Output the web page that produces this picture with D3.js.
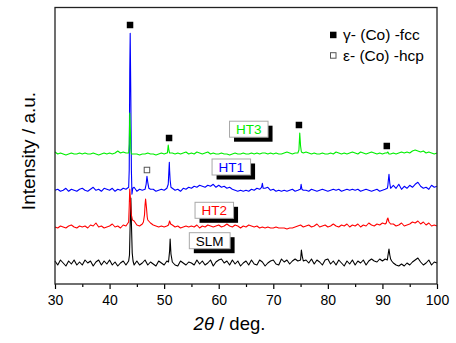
<!DOCTYPE html>
<html><head><meta charset="utf-8">
<script src="https://cdn.jsdelivr.net/npm/d3@7"></script>
<style>body{margin:0;background:#fff}svg{display:block;font-family:"Liberation Sans",Arial,sans-serif}</style>
</head><body>
<script>
// 2-theta grid (deg), 0.5 deg step, 30..100
const theta = d3.range(0, 141).map(i => 30 + i * 0.5);

// Baseline intensity (a.u.) read on the grid, one row = 5 deg
const slmBase = [
  2,-2,3,0,-3,2,-1,3,-2,1,  -2,3,0,2,-3,1,3,-2,2,-1,  3,-2,1,-3,0,2,-2,3,40,-2,
  2,-2,0,3,-2,1,-1,-3,2,0,  -2,2,12,1,-2,-3,2,0,-2,1,  0,-2,3,-1,2,-2,0,3,-3,1,
  3,4,0,2,-2,3,-1,2,-3,0,  2,-2,3,-1,-2,3,1,-3,0,2,  3,-1,-2,4,1,3,-1,2,4,2,
  3,2,3,0,4,-1,3,1,-2,3,  4,-1,2,-2,3,0,-3,2,-1,3,  -2,2,0,3,-2,2,4,2,1,4,
  2,4,7,4,0,-2,-3,-1,-3,0,  -2,1,3,5,1,-2,0,3,-2,1,  0];
const ht2Base = [
  0,-1,1,0,-1,1,2,0,-1,1,  0,1,-1,2,1,4,0,1,-1,0,  1,3,0,1,-1,2,1,5,12,6,
  2,1,3,22,7,4,2,1,0,1,  0,1,6,2,0,1,-1,0,1,0,  1,0,2,-1,1,0,2,1,0,1,
  2,0,1,3,1,0,2,1,-1,1,  0,2,1,0,1,-1,0,-1,0,-1,  -1,0,-1,-1,-1,-2,-1,-1,0,1,
  2,0,1,2,0,1,3,0,1,2,  0,1,3,1,0,2,1,3,0,2,  1,3,0,2,1,4,2,1,3,2,
  4,3,9,3,3,1,2,4,1,2,  3,5,4,6,3,5,2,4,1,2,  1];
const ht1Base = [
  0,1,-1,0,2,-1,1,0,-1,1,  2,0,-1,1,3,0,1,-1,2,1,  0,2,-1,1,0,2,1,3,20,3,
  -1,1,0,1,8,1,1,-1,0,1,  0,2,20,2,0,1,-1,2,1,3,  2,4,3,5,4,3,5,4,6,3,
  5,3,4,2,3,1,0,-1,0,-1,  0,-1,1,0,2,1,7,2,3,0,  1,-1,0,-1,0,-1,0,1,-1,0,
  2,0,0,-1,1,0,-1,0,1,0,  -1,0,1,0,1,-1,0,1,0,1,  0,1,-1,0,1,0,-1,0,1,-1,
  0,1,5,2,5,2,6,1,4,2,  5,3,6,8,4,2,3,1,5,3,  4];
const ht3Base = [
  2,0,1,0,-1,0,1,0,0,1,  0,1,0,0,1,0,-1,0,1,0,  1,0,1,3,1,2,1,1,0,0,
  0,-1,0,0,1,0,0,-1,0,1,  0,1,1,1,0,1,0,1,2,0,  1,0,2,1,0,1,2,0,1,0,
  0,1,0,0,-1,0,1,0,0,1,  0,0,1,0,1,0,1,1,0,1,  0,1,0,0,1,2,1,0,1,1,
  8,1,2,1,0,1,0,0,1,0,  0,1,0,2,1,0,1,0,1,2,  1,0,2,1,0,1,2,1,0,1,
  0,1,0,0,1,0,1,2,1,2,  1,3,4,3,2,3,1,2,1,0,  1];

// Peak points [2theta, intensity]
const slmPeaks = [[43.5,2],[43.65,8],[43.8,45],[43.9,65],[44.0,40],[44.15,10],[44.3,2],
  [50.8,1],[51.0,12],[51.1,24],[51.25,9],[51.5,1],[75.0,3],[75.15,13],[75.3,7],[75.5,2],
  [90.9,3],[91.0,7],[91.2,14],[91.35,8],[91.5,4],[91.7,2],[92.0,0]];
const ht2Peaks = [[43.5,5],[43.6,20],[43.7,38],[43.8,30],[43.9,18],[44.0,12],[44.2,7],
  [46.2,5],[46.4,12],[46.5,22],[46.6,28],[46.75,20],[46.9,10],[47.0,7],
  [50.8,2],[51.0,6],[51.2,3],[90.7,4],[90.9,8],[91.0,9],[91.2,5],[91.5,3]];
const ht1Peaks = [[43.5,3],[43.6,20],[43.7,120],[43.78,157],[43.9,90],[44.0,20],[44.1,-4],[44.25,2],
  [46.5,1],[46.7,6],[46.85,14],[47.0,8],[47.2,2],[50.75,6],[50.95,28],[51.0,20],[51.1,10],[51.25,3],
  [67.85,3],[68.0,7],[68.15,2],[74.95,1],[75.1,6],[75.25,1],
  [90.9,2],[91.05,8],[91.2,16],[91.35,7],[91.5,2]];
const ht3Peaks = [[43.5,1],[43.6,10],[43.7,41],[43.8,25],[43.9,5],[44.0,0],
  [50.6,1],[50.75,9],[50.9,3],[51.0,1],[74.5,1],[74.7,4],[74.85,21],[75.0,8],[75.15,2],[75.5,1],
  [90.8,1],[91.0,2],[91.2,0]];

const seriesNames = ["SLM", "HT2", "HT1", "HT3"];
const seriesOffsets = [21, 57, 93.7, 130];
const seriesColors = ["#000000", "#ff0000", "#0000ff", "#00ee00"];
// label anchors [2theta, intensity]
const labelPos = [[58.35,43.3],[59.19,73.7],[62.31,117],[65.51,154.8]];

const fccMarks = [[43.75,259],[50.9,146],[74.7,159],[90.8,138]];
const hcpMarks = [[46.85,114]];
const legendItems = ["γ- (Co) -fcc", "ε- (Co) -hcp"];
const xTicks = [30,40,50,60,70,80,90,100];
const xMinor = [35,45,55,65,75,85,95];

const W = 456, H = 343;
const L = 55, R = 437, T = 7.5, B = 284;
const x = d3.scaleLinear().domain([30,100]).range([L,R]);
const y = d3.scaleLinear().domain([0,276.5]).range([B,T]);

const svg = d3.select("body").append("svg").attr("width",W).attr("height",H);

function merge(base, peaks){
  const m = new Map(theta.map((t,i)=>[t.toFixed(2),[t,base[i]]]));
  peaks.forEach(p=>m.set(p[0].toFixed(2),p));
  return Array.from(m.values()).sort((a,b)=>a[0]-b[0]);
}
const bases = [slmBase, ht2Base, ht1Base, ht3Base];
const peaks = [slmPeaks, ht2Peaks, ht1Peaks, ht3Peaks];

const g = svg.append("g");
bases.forEach((b,i)=>{
  const pts = merge(b, peaks[i]);
  const line = d3.line().x(d=>x(d[0])).y(d=>y(d[1]+seriesOffsets[i]));
  g.append("path").datum(pts).attr("d",line).attr("fill","none")
    .attr("stroke",seriesColors[i]).attr("stroke-width",1.1).attr("stroke-linejoin","round");
});

// phase markers
const ms = 6.5;
svg.selectAll(".fcc").data(fccMarks).join("rect")
  .attr("x",d=>x(d[0])-ms/2).attr("y",d=>y(d[1])-ms/2).attr("width",ms).attr("height",ms).attr("fill","#000");
svg.selectAll(".hcp").data(hcpMarks).join("rect")
  .attr("x",d=>x(d[0])-ms/2+0.5).attr("y",d=>y(d[1])-ms/2+0.5).attr("width",ms-1).attr("height",ms-1)
  .attr("fill","#fff").attr("stroke","#555").attr("stroke-width",1);

// sample labels
seriesNames.forEach((n,i)=>{
  const cx = x(labelPos[i][0]), cy = y(labelPos[i][1]);
  const lg = svg.append("g");
  const t = lg.append("text").attr("x",cx).attr("y",cy+4.8).attr("text-anchor","middle")
    .attr("font-size",13.5).attr("fill",seriesColors[i]).text(n);
  const bw = t.node().getComputedTextLength()+13, bh = 16;
  lg.insert("rect","text").attr("x",cx-bw/2+4.5).attr("y",cy-bh/2+4.5).attr("width",bw).attr("height",bh).attr("fill","#000");
  lg.insert("rect","text").attr("x",cx-bw/2).attr("y",cy-bh/2).attr("width",bw).attr("height",bh)
    .attr("fill","#fff").attr("stroke","#a8a8a8").attr("stroke-width",1);
});

// legend
legendItems.forEach((s,i)=>{
  const ly = 35 + i*20.5;
  if(i===0) svg.append("rect").attr("x",330).attr("y",ly-3.3).attr("width",6.5).attr("height",6.5).attr("fill","#000");
  else svg.append("rect").attr("x",330.5).attr("y",ly-2.8).attr("width",5.5).attr("height",5.5).attr("fill","#fff").attr("stroke","#555");
  svg.append("text").attr("x",343).attr("y",ly+5.4).attr("font-size",15.5).attr("fill","#000").text(s);
});

// axes
const ax = svg.append("g").attr("transform",`translate(0,${B})`)
  .call(d3.axisBottom(x).tickValues(xTicks).tickSize(5).tickPadding(6.5).tickFormat(d3.format("d")));
ax.select(".domain").remove();
ax.selectAll("line").attr("stroke","#000").attr("stroke-width",1.2);
ax.selectAll("text").attr("font-size",14).attr("fill","#000").attr("font-family","Liberation Sans, Arial, sans-serif");
const axm = svg.append("g").attr("transform",`translate(0,${B})`)
  .call(d3.axisBottom(x).tickValues(xMinor).tickSize(3).tickFormat(""));
axm.select(".domain").remove();
axm.selectAll("line").attr("stroke","#000").attr("stroke-width",1.2);

svg.append("rect").attr("x",L).attr("y",T).attr("width",R-L).attr("height",B-T)
  .attr("fill","none").attr("stroke","#222").attr("stroke-width",1.3);

// titles
const xt = svg.append("text").attr("x",229.5).attr("y",330).attr("text-anchor","middle").attr("font-size",18.5).attr("fill","#000");
xt.append("tspan").attr("font-style","italic").text("2θ");
xt.append("tspan").text(" / deg.");
svg.append("text").attr("transform","translate(35,151) rotate(-90)").attr("text-anchor","middle")
  .attr("font-size",19).attr("fill","#000").text("Intensity / a.u.");
</script>
</body></html>
